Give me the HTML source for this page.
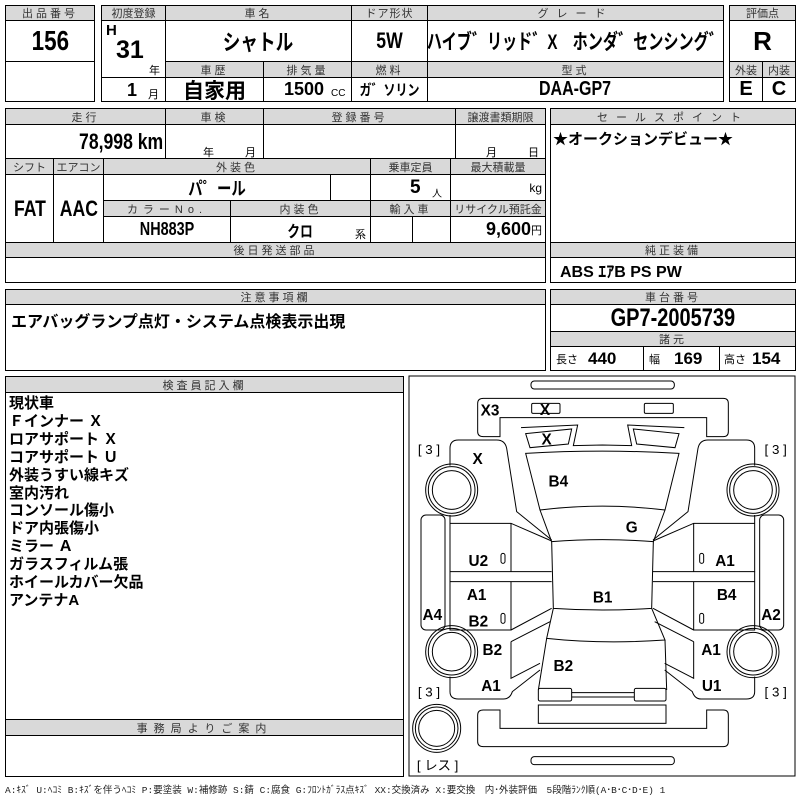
<!DOCTYPE html>
<html><head><meta charset="utf-8"><style>
*{margin:0;padding:0;box-sizing:border-box}
body{width:800px;height:800px;background:#fff;position:relative;overflow:hidden;font-family:"Liberation Sans Narrow","Liberation Sans","Noto Sans CJK JP",sans-serif;color:#000}
.c{position:absolute;border:1px solid #000;display:flex;align-items:center;justify-content:center;white-space:nowrap;overflow:hidden}
.h{background:#d9d9d9;font-size:11px;color:#333;letter-spacing:3px;font-family:"Liberation Sans","Noto Sans CJK JP",sans-serif}
.b{font-weight:bold}
.n{display:inline-block;transform:scaleX(0.8)}
.t{position:absolute;white-space:nowrap}
</style></head><body>
<!-- box1 -->
<div class="c h" style="left:5px;top:5px;width:90px;height:16px">出品番号</div>
<div class="c b" style="left:5px;top:20px;width:90px;height:42px;font-size:28px"><span class="n">156</span></div>
<div class="c" style="left:5px;top:61px;width:90px;height:41px"></div>
<!-- box2 -->
<div class="c h" style="left:101px;top:5px;width:65px;height:16px;letter-spacing:0">初度登録</div>
<div class="c h" style="left:165px;top:5px;width:187px;height:16px">車名</div>
<div class="c h" style="left:351px;top:5px;width:77px;height:16px;letter-spacing:1px">ドア形状</div>
<div class="c h" style="left:427px;top:5px;width:297px;height:16px;letter-spacing:8px">グレード</div>
<div class="c" style="left:101px;top:20px;width:65px;height:58px"></div>
<div class="t b" style="left:106px;top:22px;font-size:15px">H</div>
<div class="t b" style="left:116px;top:36px;font-size:25px">31</div>
<div class="t" style="left:149px;top:62px;font-size:11px">年</div>
<div class="c b" style="left:165px;top:20px;width:187px;height:42px;font-size:22px"><span class="n">シャトル</span></div>
<div class="c b" style="left:351px;top:20px;width:77px;height:42px;font-size:22px"><span class="n">5W</span></div>
<div class="c b" style="left:427px;top:20px;width:297px;height:42px;font-size:21px"><span style="display:inline-block;transform:scaleX(0.72)">ハイブ゛リッド゛X　ホンダ゛センシング゛</span></div>
<div class="c h" style="left:165px;top:61px;width:99px;height:17px">車歴</div>
<div class="c h" style="left:263px;top:61px;width:89px;height:17px">排気量</div>
<div class="c h" style="left:351px;top:61px;width:77px;height:17px">燃料</div>
<div class="c h" style="left:427px;top:61px;width:297px;height:17px">型式</div>
<div class="c" style="left:101px;top:77px;width:65px;height:25px"></div>
<div class="t b" style="left:127px;top:80px;font-size:18px">1</div>
<div class="t" style="left:148px;top:86px;font-size:11px">月</div>
<div class="c b" style="left:165px;top:77px;width:99px;height:25px;font-size:21px">自家用</div>
<div class="c" style="left:263px;top:77px;width:89px;height:25px"></div>
<div class="t b" style="left:284px;top:79px;font-size:18px">1500</div>
<div class="t" style="left:331px;top:88px;font-size:10px">CC</div>
<div class="c b" style="left:351px;top:77px;width:77px;height:25px;font-size:15px"><span class="n">ガ゛ソリン</span></div>
<div class="c b" style="left:427px;top:77px;width:297px;height:25px;font-size:20px"><span class="n">DAA-GP7</span></div>
<!-- box3 -->
<div class="c h" style="left:729px;top:5px;width:67px;height:16px;letter-spacing:0">評価点</div>
<div class="c b" style="left:729px;top:20px;width:67px;height:42px;font-size:26px">R</div>
<div class="c h" style="left:729px;top:61px;width:34px;height:17px;letter-spacing:0">外装</div>
<div class="c h" style="left:762px;top:61px;width:34px;height:17px;letter-spacing:0">内装</div>
<div class="c b" style="left:729px;top:77px;width:34px;height:25px;font-size:20px">E</div>
<div class="c b" style="left:762px;top:77px;width:34px;height:25px;font-size:20px">C</div>
<!-- row2 -->
<div class="c h" style="left:5px;top:108px;width:161px;height:17px">走行</div>
<div class="c h" style="left:165px;top:108px;width:99px;height:17px">車検</div>
<div class="c h" style="left:263px;top:108px;width:193px;height:17px">登録番号</div>
<div class="c h" style="left:455px;top:108px;width:91px;height:17px;letter-spacing:0">譲渡書類期限</div>
<div class="c" style="left:5px;top:124px;width:161px;height:35px;justify-content:flex-end;padding-right:2px"><span class="b n" style="font-size:22px;transform-origin:right">78,998 km</span></div>
<div class="c" style="left:165px;top:124px;width:99px;height:35px"></div>
<div class="t" style="left:203px;top:144px;font-size:11px">年</div>
<div class="t" style="left:245px;top:144px;font-size:11px">月</div>
<div class="c" style="left:263px;top:124px;width:193px;height:35px"></div>
<div class="c" style="left:455px;top:124px;width:91px;height:35px"></div>
<div class="t" style="left:486px;top:144px;font-size:11px">月</div>
<div class="t" style="left:528px;top:144px;font-size:11px">日</div>
<div class="c h" style="left:5px;top:158px;width:49px;height:17px;letter-spacing:0">シフト</div>
<div class="c h" style="left:53px;top:158px;width:51px;height:17px;letter-spacing:0">エアコン</div>
<div class="c h" style="left:103px;top:158px;width:268px;height:17px">外装色</div>
<div class="c h" style="left:370px;top:158px;width:81px;height:17px;letter-spacing:0">乗車定員</div>
<div class="c h" style="left:450px;top:158px;width:96px;height:17px;letter-spacing:0">最大積載量</div>
<div class="c b" style="left:5px;top:174px;width:49px;height:69px;font-size:22px"><span class="n">FAT</span></div>
<div class="c b" style="left:53px;top:174px;width:51px;height:69px;font-size:22px"><span class="n">AAC</span></div>
<div class="c b" style="left:103px;top:174px;width:228px;height:27px;font-size:18px"><span class="n">パ゜ール</span></div>
<div class="c" style="left:330px;top:174px;width:41px;height:27px"></div>
<div class="c" style="left:370px;top:174px;width:81px;height:27px"></div>
<div class="t b" style="left:410px;top:177px;font-size:19px">5</div>
<div class="t" style="left:432px;top:185px;font-size:10px">人</div>
<div class="c" style="left:450px;top:174px;width:96px;height:27px;justify-content:flex-end;padding-right:3px;font-size:12px">kg</div>
<div class="c h" style="left:103px;top:200px;width:128px;height:17px;letter-spacing:5px">カラーNo.</div>
<div class="c h" style="left:230px;top:200px;width:141px;height:17px">内装色</div>
<div class="c h" style="left:370px;top:200px;width:81px;height:17px">輸入車</div>
<div class="c h" style="left:450px;top:200px;width:96px;height:17px;letter-spacing:0">リサイクル預託金</div>
<div class="c b" style="left:103px;top:216px;width:128px;height:27px;font-size:18px"><span class="n">NH883P</span></div>
<div class="c b" style="left:230px;top:216px;width:141px;height:27px;font-size:16px"><span class="n">クロ</span></div>
<div class="t" style="left:355px;top:226px;font-size:11px">系</div>
<div class="c" style="left:370px;top:216px;width:43px;height:27px"></div>
<div class="c" style="left:412px;top:216px;width:39px;height:27px"></div>
<div class="c" style="left:450px;top:216px;width:96px;height:27px;justify-content:flex-end;padding-right:3px"><span class="b" style="font-size:18px">9,600</span><span style="font-size:11px">円</span></div>
<div class="c h" style="left:5px;top:242px;width:541px;height:16px">後日発送部品</div>
<div class="c" style="left:5px;top:257px;width:541px;height:26px"></div>
<!-- sales -->
<div class="c h" style="left:550px;top:108px;width:246px;height:17px;letter-spacing:8px">セールスポイント</div>
<div class="c" style="left:550px;top:124px;width:246px;height:119px;align-items:flex-start;justify-content:flex-start;padding:3px 2px;font-size:15px;font-weight:bold">★オークションデビュー★</div>
<div class="c h" style="left:550px;top:242px;width:246px;height:16px">純正装備</div>
<div class="c" style="left:550px;top:257px;width:246px;height:26px;justify-content:flex-start;padding-left:9px"><span class="b" style="font-size:16px">ABS ｴｱB PS PW</span></div>
<!-- caution -->
<div class="c h" style="left:5px;top:289px;width:541px;height:16px">注意事項欄</div>
<div class="c" style="left:5px;top:304px;width:541px;height:67px;align-items:flex-start;justify-content:flex-start;padding:3px 5px;font-size:16px;font-weight:bold">エアバッグランプ点灯・システム点検表示出現</div>
<div class="c h" style="left:550px;top:289px;width:246px;height:16px">車台番号</div>
<div class="c b" style="left:550px;top:304px;width:246px;height:28px;font-size:25px"><span class="n">GP7-2005739</span></div>
<div class="c h" style="left:550px;top:331px;width:246px;height:16px">諸元</div>
<div class="c" style="left:550px;top:346px;width:94px;height:25px;justify-content:flex-start;padding-left:5px"><span style="font-size:11px">長さ</span><span class="b" style="font-size:17px;margin-left:10px">440</span></div>
<div class="c" style="left:643px;top:346px;width:77px;height:25px;justify-content:flex-start;padding-left:5px"><span style="font-size:11px">幅</span><span class="b" style="font-size:17px;margin-left:14px">169</span></div>
<div class="c" style="left:719px;top:346px;width:77px;height:25px;justify-content:flex-start;padding-left:4px"><span style="font-size:11px">高さ</span><span class="b" style="font-size:17px;margin-left:6px">154</span></div>
<!-- inspector -->
<div class="c h" style="left:5px;top:376px;width:399px;height:17px">検査員記入欄</div>
<div class="c" style="left:5px;top:392px;width:399px;height:328px;align-items:flex-start;justify-content:flex-start;padding:2px 3px;font-size:15px;font-weight:bold;line-height:17.9px;font-family:'Liberation Sans','Noto Sans CJK JP',sans-serif">現状車<br>Ｆインナー Ｘ<br>ロアサポート Ｘ<br>コアサポート Ｕ<br>外装うすい線キズ<br>室内汚れ<br>コンソール傷小<br>ドア内張傷小<br>ミラー Ａ<br>ガラスフィルム張<br>ホイールカバー欠品<br>アンテナA</div>
<div class="c h" style="left:5px;top:719px;width:399px;height:17px;letter-spacing:6px">事務局よりご案内</div>
<div class="c" style="left:5px;top:735px;width:399px;height:42px"></div>
<div class="t" style="left:5px;top:782px;font-size:9.5px;color:#222;font-family:'Liberation Mono','Noto Sans CJK JP',monospace">A:ｷｽﾞ U:ﾍｺﾐ B:ｷｽﾞを伴うﾍｺﾐ P:要塗装 W:補修跡 S:錆 C:腐食 G:ﾌﾛﾝﾄｶﾞﾗｽ点ｷｽﾞ XX:交換済み X:要交換　内･外装評価　5段階ﾗﾝｸ順(A･B･C･D･E) 1</div>
<!-- diagram -->
<svg style="position:absolute;left:405px;top:375px" width="395" height="425" viewBox="0 0 1185 1275" fill="none" stroke="#000" stroke-width="3">
<rect x="12" y="3" width="1158" height="1200"/>
<rect x="378" y="18" width="430" height="24" rx="10"/>
<path d="M218,85 Q218,70 235,70 L955,70 Q970,70 970,85 L970,170 Q970,185 955,185 L905,185 L905,128 L285,128 L285,185 L235,185 Q218,185 218,170 Z"/>
<rect x="380" y="85" width="85" height="30" rx="4"/>
<rect x="718" y="85" width="87" height="30" rx="4"/>
<path d="M348,158 L518,150 L505,212 L592,210 L680,212 L668,150 L838,158"/>
<path d="M362,176 L500,162 L490,207 L375,218 Z"/>
<path d="M685,162 L822,176 L810,218 L695,207 Z"/>
<path d="M362,235 Q592,222 822,235 L780,405 Q592,382 405,405 Z"/>
<path d="M405,405 L440,500 Q592,488 745,500 L780,405"/>
<path d="M440,500 L445,700 Q592,710 740,700 L745,500"/>
<path d="M445,700 L425,790 Q592,808 780,795 L740,700"/>
<path d="M425,790 L400,945 M780,795 L785,945"/>
<rect x="400" y="940" width="100" height="38" rx="5"/>
<rect x="688" y="940" width="95" height="38" rx="5"/>
<path d="M500,953 L688,953 M500,966 L688,966"/>
<rect x="400" y="990" width="383" height="55"/>
<path d="M285,1005 L285,1060 L905,1060 L905,1005 L955,1005 Q970,1005 970,1020 L970,1100 Q970,1115 955,1115 L235,1115 Q218,1115 218,1100 L218,1020 Q218,1005 235,1005 Z"/>
<rect x="378" y="1145" width="430" height="24" rx="10"/>
<g id="side">
<path d="M440,495 L335,410 L305,220 Q300,195 275,195 L160,195 Q135,195 135,220 L135,272"/>
<path d="M135,420 L135,445 L318,445 L440,498 M318,445 L318,590 L440,590 M135,445 L135,590 L318,590"/>
<path d="M135,590 L135,620 L440,620 M135,620 L135,765 L318,765 L318,620 M318,765 L440,700"/>
<path d="M318,800 L435,740 M318,800 L318,910 L405,865 M135,905 L135,950 Q135,972 160,972 L295,972 Q315,972 322,950 L405,885"/>
<circle cx="140" cy="345" r="78"/><circle cx="140" cy="345" r="70"/><circle cx="140" cy="345" r="58"/>
<circle cx="140" cy="830" r="78"/><circle cx="140" cy="830" r="70"/><circle cx="140" cy="830" r="58"/>
<rect x="48" y="420" width="72" height="345" rx="15"/>
<rect x="288" y="535" width="12" height="30" rx="6"/>
<rect x="288" y="715" width="12" height="30" rx="6"/>
</g>
<use href="#side" transform="translate(1184,0) scale(-1,1)"/>
<circle cx="95" cy="1060" r="72"/><circle cx="95" cy="1060" r="64"/><circle cx="95" cy="1060" r="54"/>
<g stroke="none" fill="#000" font-family="'Liberation Sans',sans-serif" font-weight="bold" font-size="46" text-anchor="middle">
<text x="255" y="122">X3</text><text x="420" y="120">X</text><text x="425" y="208">X</text><text x="218" y="267">X</text>
<text x="460" y="335">B4</text><text x="680" y="472">G</text><text x="220" y="573">U2</text><text x="960" y="573">A1</text>
<text x="593" y="682">B1</text><text x="215" y="675">A1</text><text x="965" y="675">B4</text>
<text x="82" y="735">A4</text><text x="1098" y="735">A2</text><text x="220" y="755">B2</text>
<text x="262" y="840">B2</text><text x="918" y="840">A1</text><text x="475" y="888">B2</text>
<text x="258" y="948">A1</text><text x="920" y="948">U1</text>
</g>
<g stroke="none" fill="#000" font-family="'Liberation Sans','Noto Sans CJK JP',sans-serif" font-size="40" text-anchor="middle">
<text x="72" y="237">[ 3 ]</text><text x="1112" y="237">[ 3 ]</text>
<text x="72" y="965">[ 3 ]</text><text x="1112" y="965">[ 3 ]</text>
<text x="98" y="1185">[ レス ]</text>
</g>
</svg>
</body></html>
